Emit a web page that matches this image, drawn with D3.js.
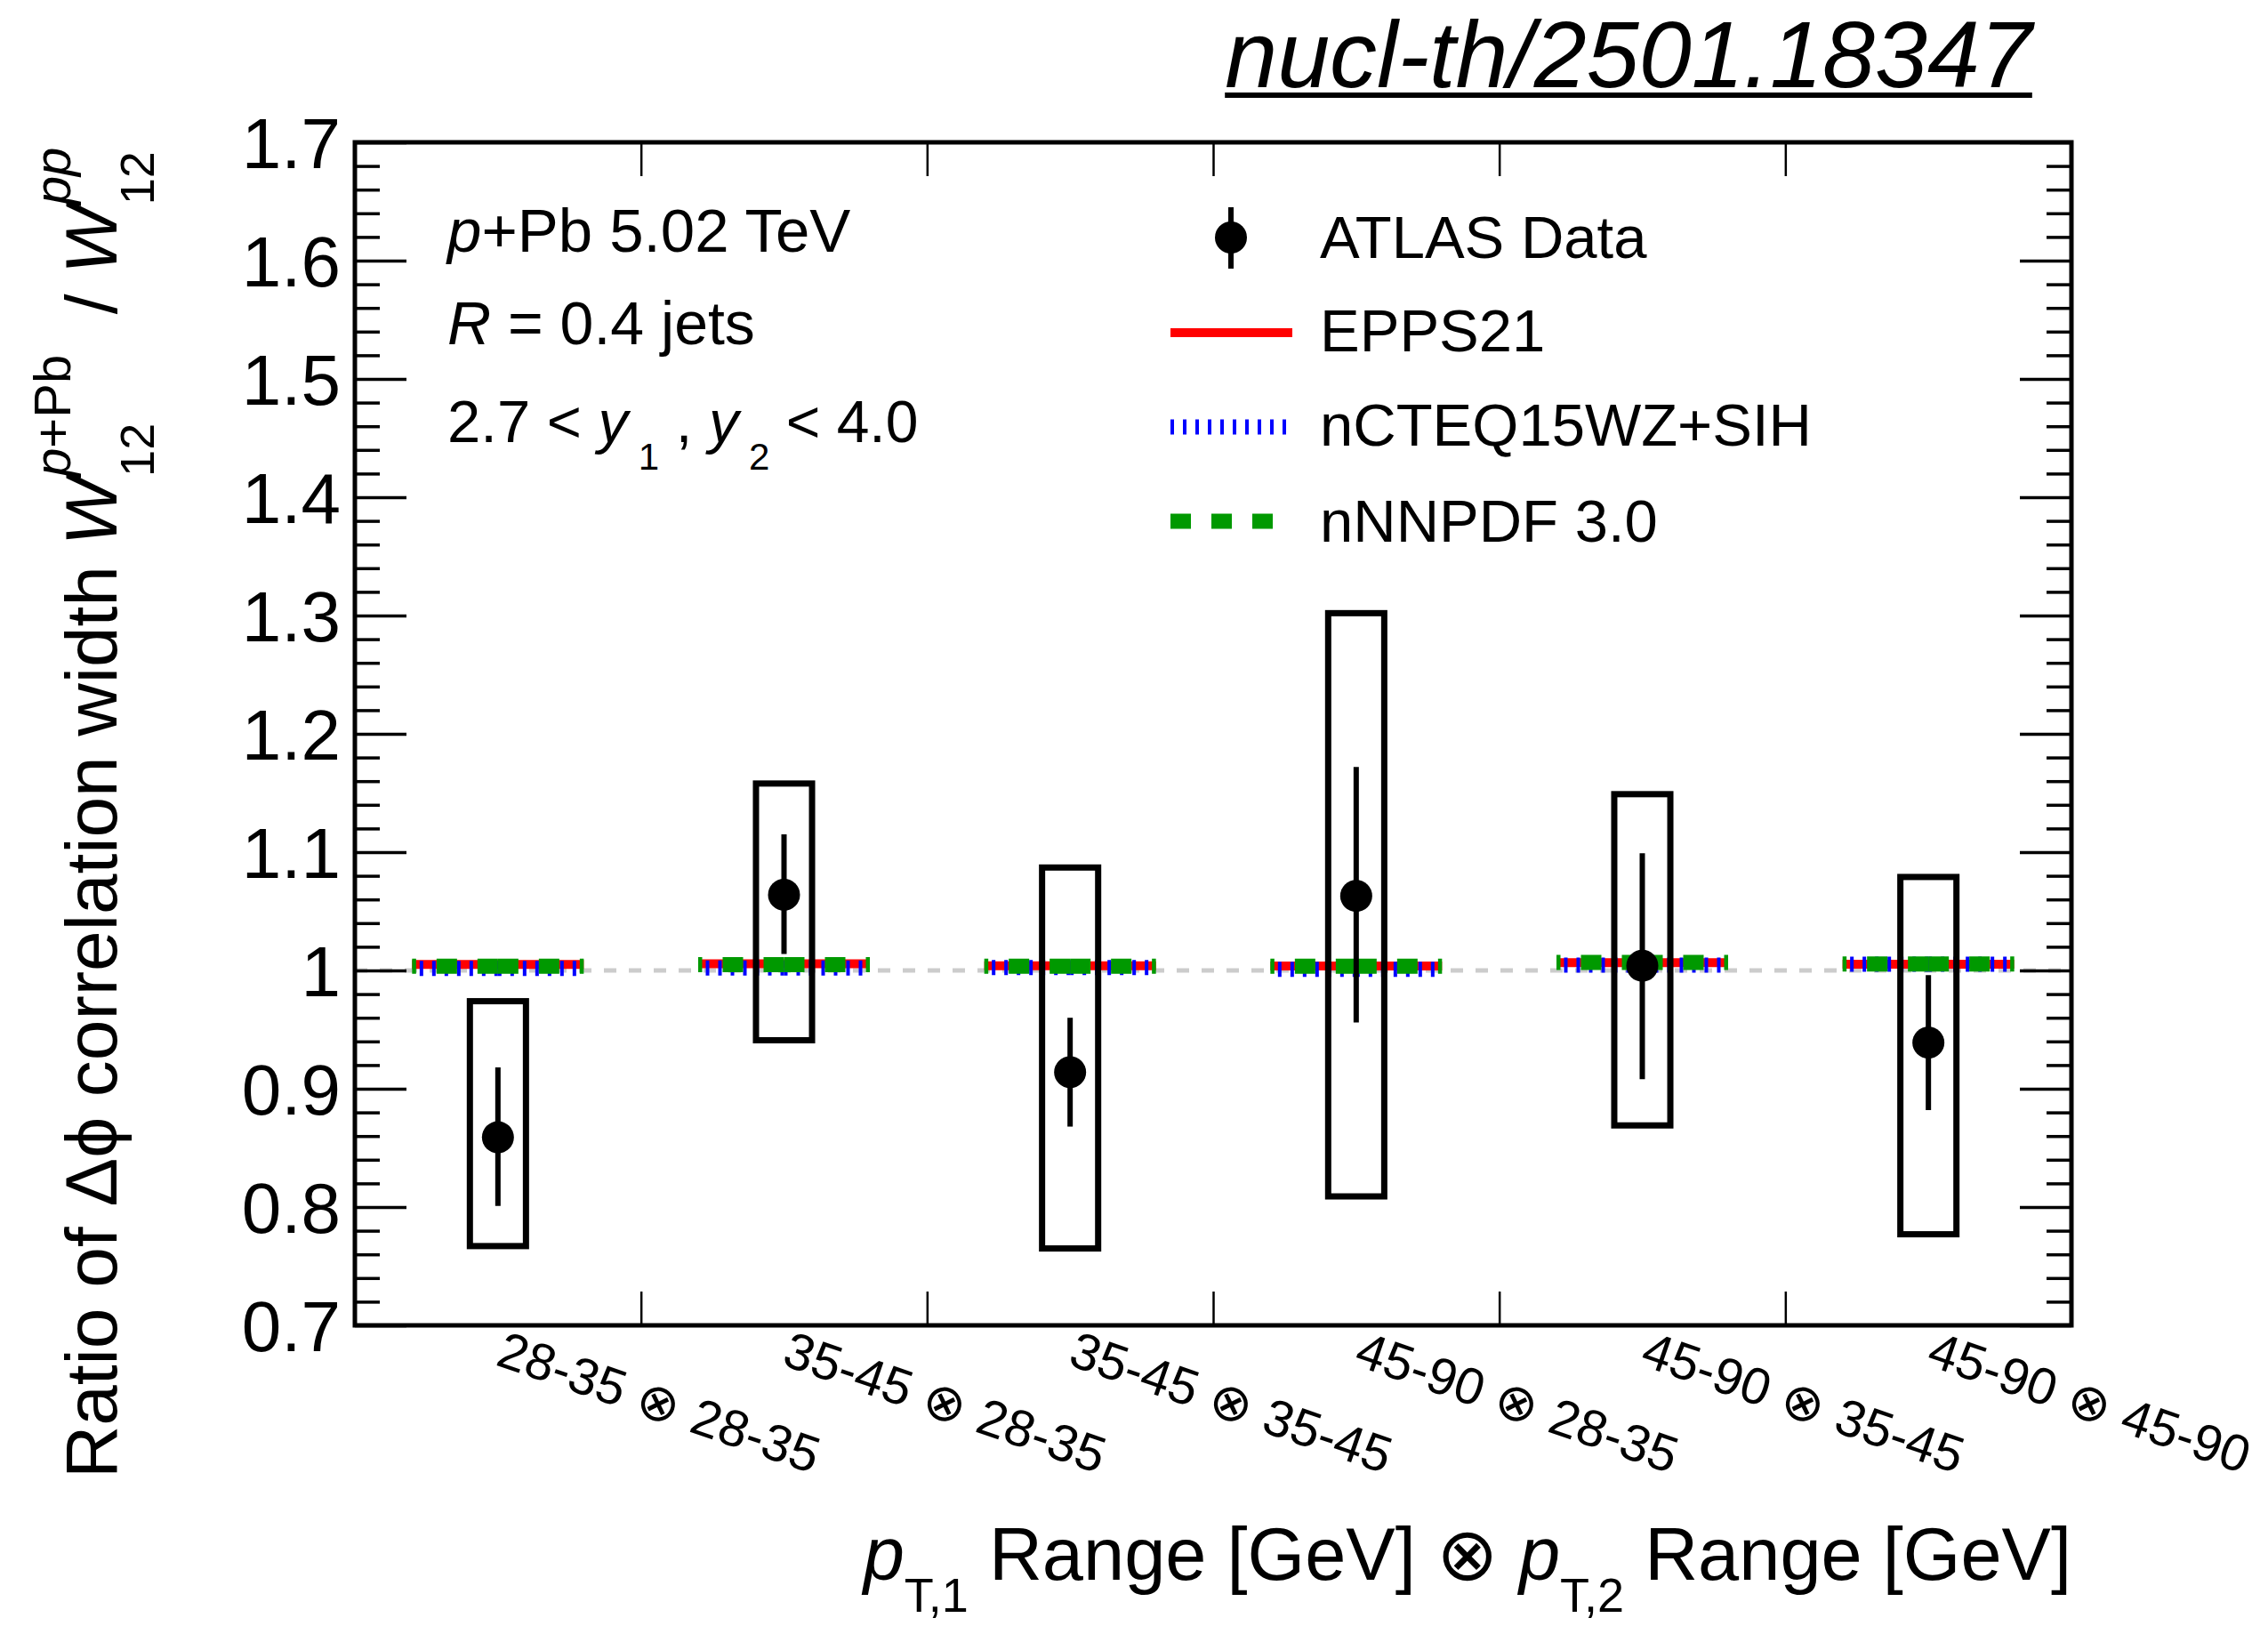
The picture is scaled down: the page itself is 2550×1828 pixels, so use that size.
<!DOCTYPE html>
<html>
<head>
<meta charset="utf-8">
<script src="https://cdn.jsdelivr.net/npm/d3@7"></script>
<style>
  html, body { margin: 0; padding: 0; background: #fff; }
  svg { display: block; }
  text { font-family: "Liberation Sans", Arial, Helvetica, sans-serif; fill: #000; white-space: pre; }
</style>
</head>
<body>
<svg id="chart" width="2550" height="1828"></svg>
<script>
// ---------------- data ----------------
const categories = ["28-35 ⊗ 28-35", "35-45 ⊗ 28-35", "35-45 ⊗ 35-45", "45-90 ⊗ 28-35", "45-90 ⊗ 35-45", "45-90 ⊗ 45-90"];
const dataValues = [0.859, 1.064, 0.914, 1.063, 1.004, 0.939];
const statLow    = [0.801, 1.014, 0.868, 0.956, 0.908, 0.882];
const statHigh   = [0.918, 1.115, 0.960, 1.172, 1.099, 0.996];
const sysLow     = [0.767, 0.941, 0.765, 0.809, 0.869, 0.777];
const sysHigh    = [0.974, 1.158, 1.087, 1.302, 1.149, 1.079];
const epps21     = [1.0050, 1.0056, 1.0040, 1.0038, 1.0065, 1.0053];
const ncteq15    = [1.0017, 1.0020, 1.0025, 1.0010, 1.0045, 1.0053];
const nnnpdf30   = [1.0035, 1.0048, 1.0035, 1.0035, 1.0068, 1.0055];
const yTickValues = [0.7, 0.8, 0.9, 1.0, 1.1, 1.2, 1.3, 1.4, 1.5, 1.6, 1.7];
const yTickLabels = ["0.7", "0.8", "0.9", "1", "1.1", "1.2", "1.3", "1.4", "1.5", "1.6", "1.7"];
const legendLabels = ["ATLAS Data", "EPPS21", "nCTEQ15WZ+SIH", "nNNPDF 3.0"];

// ---------------- layout ----------------
const svg = d3.select("#chart");
svg.append("rect").attr("width", 2550).attr("height", 1828).attr("fill", "#fff");

const L = 399, R = 2329, T = 160, B = 1490;
const x = d3.scaleBand().domain(categories).range([L, R]).padding(0);
const xEdge = d3.scaleLinear().domain([0, categories.length]).range([L, R]);
const y = d3.scaleLinear().domain([0.7, 1.7]).range([B, T]);
const bw = x.bandwidth();
const cx = c => x(c) + bw / 2;

// rich text helper: segments laid out sequentially, stacked scripts allowed
function rich(parent, px, py, segs, anchor, rot) {
  const g = parent.append("g").attr("transform", `translate(${px},${py}) rotate(${rot || 0})`);
  let cursor = 0, prevX = 0, prevW = 0;
  const items = [];
  segs.forEach(s => {
    const t = g.append("text")
      .attr("y", s.dy || 0)
      .attr("font-size", s.size)
      .attr("font-style", s.italic ? "italic" : "normal")
      .text(s.t);
    const w = t.node().getComputedTextLength();
    let xx;
    if (s.stack) {
      xx = prevX;
      cursor = prevX + Math.max(prevW, w);
    } else {
      xx = cursor;
      cursor += w;
      prevX = xx; prevW = w;
    }
    t.attr("x", xx);
    items.push(t);
  });
  let off = 0;
  if (anchor === "end") off = -cursor;
  else if (anchor === "middle") off = -cursor / 2;
  items.forEach(t => t.attr("x", +t.attr("x") + off));
  return { g, width: cursor, offset: off };
}

// ---------------- reference line at 1 ----------------
svg.append("line")
  .attr("x1", L).attr("x2", R).attr("y1", y(1)).attr("y2", y(1))
  .attr("stroke", "#cccccc").attr("stroke-width", 5).attr("stroke-dasharray", "14,14");

// ---------------- model lines ----------------
const models = [
  { vals: epps21,   color: "#ff0000", width: 10, dash: null },
  { vals: ncteq15,  color: "#0000ff", width: 17, dash: "4,10" },
  { vals: nnnpdf30, color: "#009900", width: 17, dash: "23,23" }
];
models.forEach(m => {
  const g = svg.append("g");
  categories.forEach((c, i) => {
    const yy = y(m.vals[i]);
    [-1, 1].forEach(dir => {
      const ln = g.append("line")
        .attr("x1", cx(c)).attr("x2", cx(c) + dir * 0.3 * bw)
        .attr("y1", yy).attr("y2", yy)
        .attr("stroke", m.color).attr("stroke-width", m.width);
      if (m.dash) ln.attr("stroke-dasharray", m.dash);
    });
  });
});

// ---------------- systematic boxes ----------------
svg.append("g").selectAll("rect").data(categories).join("rect")
  .attr("x", c => cx(c) - 0.098 * bw)
  .attr("width", 0.196 * bw)
  .attr("y", (c, i) => y(sysHigh[i]))
  .attr("height", (c, i) => y(sysLow[i]) - y(sysHigh[i]))
  .attr("fill", "none").attr("stroke", "#000").attr("stroke-width", 7);

// ---------------- data points ----------------
const dg = svg.append("g");
dg.selectAll("line").data(categories).join("line")
  .attr("x1", cx).attr("x2", cx)
  .attr("y1", (c, i) => y(statHigh[i])).attr("y2", (c, i) => y(statLow[i]))
  .attr("stroke", "#000").attr("stroke-width", 6);
dg.selectAll("circle").data(categories).join("circle")
  .attr("cx", cx).attr("cy", (c, i) => y(dataValues[i])).attr("r", 18).attr("fill", "#000");

// ---------------- axes ----------------
const minorTicks = d3.range(0, 51).map(k => 0.7 + k * 0.02).filter(v => !yTickValues.some(t => Math.abs(t - v) < 1e-6));
function styleAxis(g, w) {
  g.select(".domain").remove();
  g.selectAll(".tick line").attr("stroke", "#000").attr("stroke-width", w);
}
const yAxisL = svg.append("g").attr("transform", `translate(${L},0)`)
  .call(d3.axisLeft(y).tickValues(yTickValues).tickSize(-58).tickPadding(16)
    .tickFormat((d, i) => yTickLabels[i]));
styleAxis(yAxisL, 3.5);
yAxisL.selectAll("text").attr("font-size", 80).attr("dy", "0.36em")
  .attr("font-family", "'Liberation Sans', Arial, sans-serif");
styleAxis(svg.append("g").attr("transform", `translate(${L},0)`)
  .call(d3.axisLeft(y).tickValues(minorTicks).tickSize(-28).tickFormat("")), 3.5);
styleAxis(svg.append("g").attr("transform", `translate(${R},0)`)
  .call(d3.axisRight(y).tickValues(yTickValues).tickSize(-58).tickFormat("")), 3.5);
styleAxis(svg.append("g").attr("transform", `translate(${R},0)`)
  .call(d3.axisRight(y).tickValues(minorTicks).tickSize(-28).tickFormat("")), 3.5);
const edgeTicks = d3.range(1, categories.length);
styleAxis(svg.append("g").attr("transform", `translate(0,${B})`)
  .call(d3.axisBottom(xEdge).tickValues(edgeTicks).tickSize(-38).tickFormat("")), 2.5);
styleAxis(svg.append("g").attr("transform", `translate(0,${T})`)
  .call(d3.axisTop(xEdge).tickValues(edgeTicks).tickSize(-38).tickFormat("")), 2.5);

// frame
svg.append("rect").attr("x", L).attr("y", T).attr("width", R - L).attr("height", B - T)
  .attr("fill", "none").attr("stroke", "#000").attr("stroke-width", 5);

// x tick labels (rotated)
svg.append("g").selectAll("text").data(categories).join("text")
  .attr("transform", c => `translate(${cx(c) - 4},${B + 44}) rotate(19)`)
  .attr("font-size", 58)
  .text(c => c);

// ---------------- axis titles ----------------
rich(svg, R, 1776, [
  { t: "p", size: 83, italic: true },
  { t: "T,1", size: 54, dy: 36 },
  { t: " Range [GeV] ⊗ ", size: 83 },
  { t: "p", size: 83, italic: true },
  { t: "T,2", size: 54, dy: 36 },
  { t: " Range [GeV]", size: 83 }
], "end", 0);

const yt = rich(svg, 131, 1662, [
  { t: "Ratio of Δϕ correlation width ", size: 82 },
  { t: "W", size: 82, italic: true },
  { t: "p+Pb", size: 58, dy: -52 },
  { t: "12", size: 54, dy: 42, stack: true },
  { t: "  / ", size: 82 },
  { t: "W", size: 82, italic: true },
  { t: "pp", size: 58, dy: -52, italic: true },
  { t: "12", size: 54, dy: 42, stack: true }
], "start", -90);
yt.g.selectAll("text").filter(function () { return d3.select(this).text() === "p+Pb"; })
  .text(null).call(t => {
    t.append("tspan").attr("font-style", "italic").text("p");
    t.append("tspan").text("+Pb");
  });

// ---------------- annotations ----------------
const ann = svg.append("g");
ann.append("text").attr("x", 503).attr("y", 283).attr("font-size", 69)
  .call(t => { t.append("tspan").attr("font-style", "italic").text("p"); t.append("tspan").text("+Pb 5.02 TeV"); });
ann.append("text").attr("x", 503).attr("y", 387).attr("font-size", 68)
  .call(t => { t.append("tspan").attr("font-style", "italic").text("R"); t.append("tspan").text(" = 0.4 jets"); });
rich(svg, 503, 497, [
  { t: "2.7 < ", size: 67 },
  { t: "y", size: 67, italic: true },
  { t: " 1", size: 42, dy: 31 },
  { t: " , ", size: 67 },
  { t: "y", size: 67, italic: true },
  { t: " 2", size: 42, dy: 31 },
  { t: " < 4.0", size: 66 }
], "start", 0);

// ---------------- legend ----------------
const lg = svg.append("g");
const lgX0 = 1316, lgMid = 1384, lgText = 1484;
const lgRows = [267, 374, 480, 586];
lg.append("line").attr("x1", lgMid).attr("x2", lgMid).attr("y1", lgRows[0] - 34).attr("y2", lgRows[0] + 35)
  .attr("stroke", "#000").attr("stroke-width", 6);
lg.append("circle").attr("cx", lgMid).attr("cy", lgRows[0]).attr("r", 18).attr("fill", "#000");
lg.append("line").attr("x1", lgX0).attr("x2", 1453).attr("y1", lgRows[1]).attr("y2", lgRows[1])
  .attr("stroke", "#ff0000").attr("stroke-width", 10);
lg.append("line").attr("x1", lgX0).attr("x2", 1446).attr("y1", lgRows[2]).attr("y2", lgRows[2])
  .attr("stroke", "#0000ff").attr("stroke-width", 17).attr("stroke-dasharray", "4,10");
lg.append("line").attr("x1", lgX0).attr("x2", 1431).attr("y1", lgRows[3]).attr("y2", lgRows[3])
  .attr("stroke", "#009900").attr("stroke-width", 17).attr("stroke-dasharray", "23,23");
lg.selectAll("text.lgt").data(legendLabels).join("text").attr("class", "lgt")
  .attr("x", lgText).attr("y", (d, i) => [290, 395, 501, 609][i])
  .attr("font-size", 67).text(d => d);

// ---------------- title ----------------
const title = svg.append("text").attr("x", 1831).attr("y", 98).attr("text-anchor", "middle")
  .attr("font-size", 106).attr("font-style", "italic").text("nucl-th/2501.18347");
const tw = title.node().getComputedTextLength();
svg.append("line").attr("x1", 1831 - tw / 2).attr("x2", 1831 + tw / 2).attr("y1", 107).attr("y2", 107)
  .attr("stroke", "#000").attr("stroke-width", 6);
</script>
</body>
</html>
